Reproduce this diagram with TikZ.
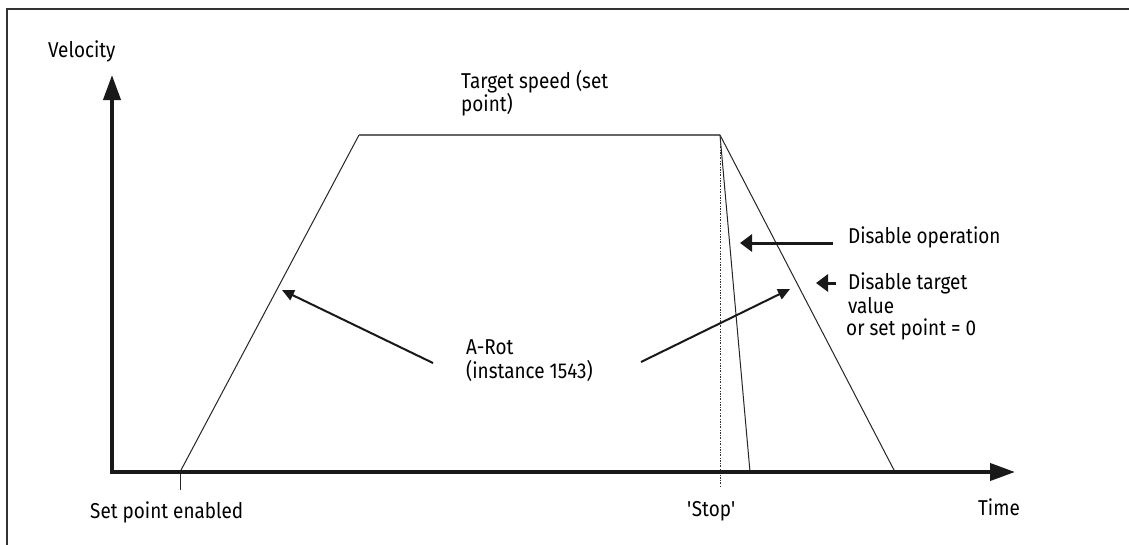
\documentclass[tikz,border=0pt]{standalone}
\usepackage{fontspec}
\setmainfont{Fira Sans}[FakeStretch=0.88]
\usetikzlibrary{arrows.meta}
\begin{document}
\begin{tikzpicture}[x=1pt,y=-1pt,
  lbl/.style={anchor=base west, inner sep=0pt, text=black, font=\fontsize{21.5}{25}\selectfont},
  axisline/.style={line width=4pt, draw=black!90, line join=miter,
    {Triangle[length=25pt,width=17pt]}-{Triangle[length=25pt,width=17pt]}},
  curve/.style={line width=1pt, draw=black!85},
  topline/.style={line width=1.5pt, draw=black!60},
  bigpointer/.style={line width=3pt, draw=black!90, -{Triangle[length=12pt,width=17pt]}},
  smallpointer/.style={line width=2pt, draw=black!90, -{Triangle[length=12pt,width=11pt]}},
]
\useasboundingbox (0,0) rectangle (1129,544);
\fill[white] (0,0) rectangle (1129,544);
% frame
\draw[line width=1.5pt, draw=black!80] (1130,9) -- (7,9) -- (7,545);

% key points
\coordinate (o) at (112,472);
\coordinate (yt) at (112,75);
\coordinate (xt) at (1015,472);
\coordinate (a) at (180,472);
\coordinate (b) at (359,135);
\coordinate (c) at (720,135);
\coordinate (d) at (895,472);
\coordinate (e) at (750,472);
\coordinate (stopbot) at (720,487);
\coordinate (tickbot) at (180,490);

% profile
\draw[curve] (a) -- (b);
\draw[topline] (b) -- (c);
\draw[curve] (c) -- (d);
\draw[curve] (c) -- (e);
\draw[line width=0.8pt, draw=black!80, dash pattern=on 2pt off 1.5pt on 0.6pt off 1.5pt] (c) -- (stopbot);
\draw[line width=0.8pt, draw=black!85] (a) -- (tickbot);

% axes
\draw[axisline] (yt) -- (o) -- (xt);

% labels
\node[lbl] (vel) at (48,57) {Velocity};
\node[lbl] (tsp1) at (461,88) {Target speed (set};
\node[lbl] (tsp2) at (461,111) {point)};
\node[lbl] (dop) at (848,243) {Disable operation};
\node[lbl] (dtv1) at (848,289) {Disable target};
\node[lbl] (dtv2) at (848,313) {value};
\node[lbl] (dtv3) at (846,335) {or set point = 0};
\node[lbl] (ar1) at (466,354) {A-Rot};
\node[lbl] (ar2) at (466,378) {(instance 1543)};
\node[lbl] (spe) at (90,518) {Set point enabled};
\node[lbl] (stop) at (687,516) {\textquotesingle Stop\textquotesingle};
\node[lbl] (time) at (978,515) {Time};

% pointers
\coordinate (doS) at (833,243);
\coordinate (doT) at (740,243);
\coordinate (dtS) at (836,283);
\coordinate (dtT) at (816,283);
\coordinate (r1S) at (433,363);
\coordinate (r1T) at (282,290);
\coordinate (r2S) at (641,362);
\coordinate (r2T) at (790,289);
\draw[bigpointer] (doS) -- (doT);
\draw[bigpointer] (dtS) -- (dtT);
\draw[smallpointer] (r1S) -- (r1T);
\draw[smallpointer] (r2S) -- (r2T);
\end{tikzpicture}
\end{document}
